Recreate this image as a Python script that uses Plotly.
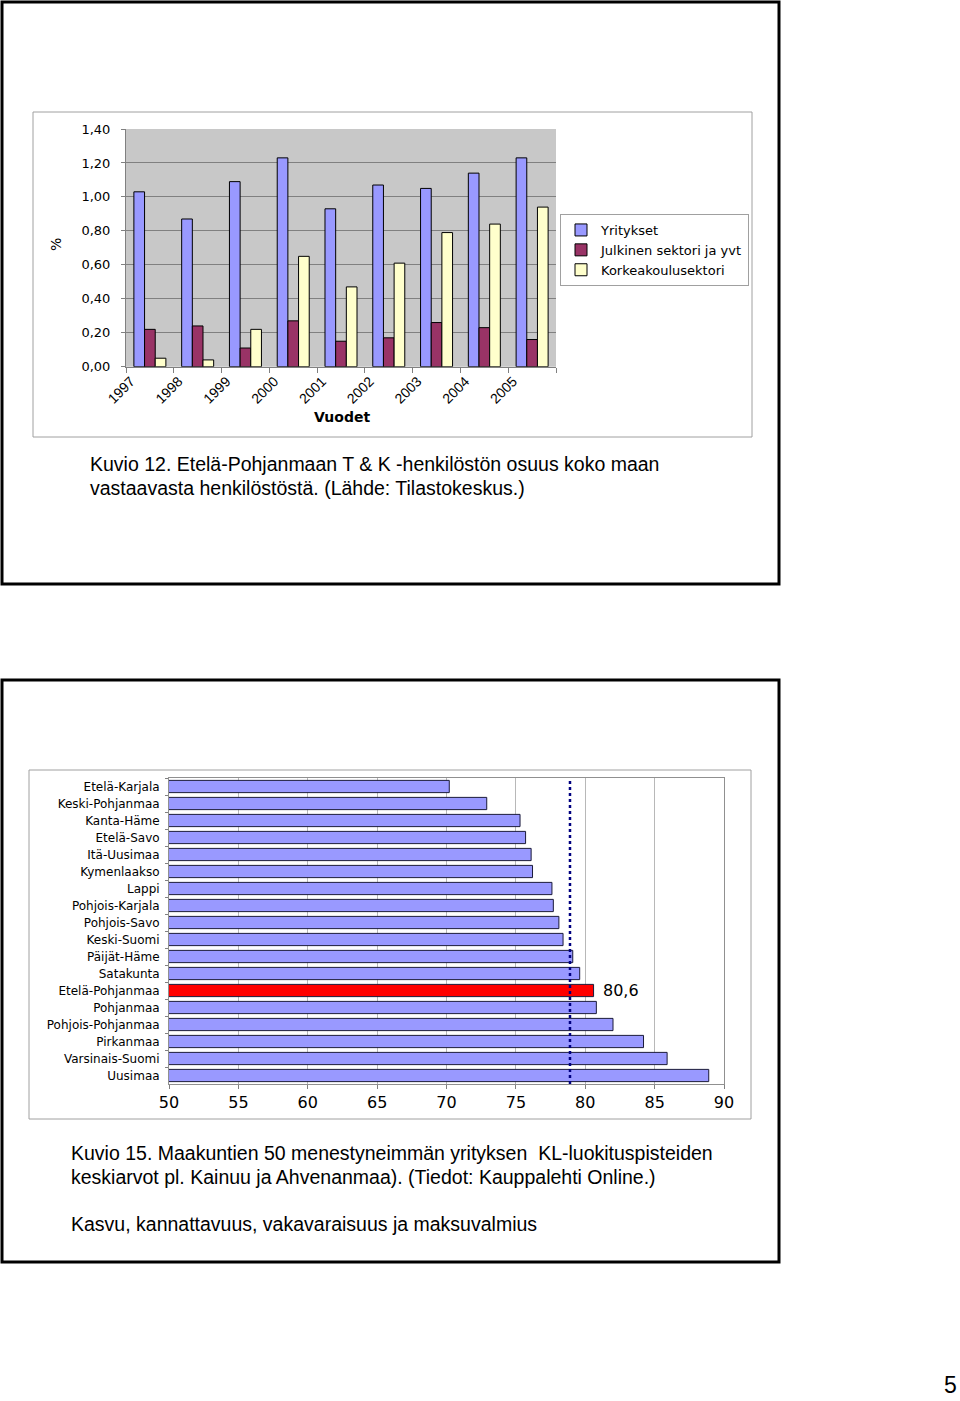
import plotly.graph_objects as go

W, H = 960, 1401

# ---------- Data: chart 1 ----------
years = ["1997", "1998", "1999", "2000", "2001", "2002", "2003", "2004", "2005"]
yritykset = [1.03, 0.87, 1.09, 1.23, 0.93, 1.07, 1.05, 1.14, 1.23]
julkinen = [0.22, 0.24, 0.11, 0.27, 0.15, 0.17, 0.26, 0.23, 0.16]
korkeakoulu = [0.05, 0.04, 0.22, 0.65, 0.47, 0.61, 0.79, 0.84, 0.94]
series_names = ["Yritykset", "Julkinen sektori ja yvt", "Korkeakoulusektori"]

# ---------- Data: chart 2 ----------
regions = ["Etelä-Karjala", "Keski-Pohjanmaa", "Kanta-Häme", "Etelä-Savo", "Itä-Uusimaa",
           "Kymenlaakso", "Lappi", "Pohjois-Karjala", "Pohjois-Savo", "Keski-Suomi",
           "Päijät-Häme", "Satakunta", "Etelä-Pohjanmaa", "Pohjanmaa", "Pohjois-Pohjanmaa",
           "Pirkanmaa", "Varsinais-Suomi", "Uusimaa"]
scores = [70.2, 72.9, 75.3, 75.7, 76.1, 76.2, 77.6, 77.7, 78.1, 78.4,
          79.1, 79.6, 80.6, 80.8, 82.0, 84.2, 85.9, 88.9]
average_score = 78.9
highlight = "Etelä-Pohjanmaa"

FONT = "Arial, 'Liberation Sans', sans-serif"
WIDE = "'DejaVu Sans', Verdana, sans-serif"

def px_x(p):
    return p / W

def px_y(p):
    return 1 - p / H

fig = go.Figure()

colors1 = ["#9999FF", "#993366", "#FFFFCC"]
for name, vals, col in zip(series_names, [yritykset, julkinen, korkeakoulu], colors1):
    fig.add_trace(go.Bar(
        x=years, y=vals, name=name, marker=dict(color=col, line=dict(color="black", width=1)),
        xaxis="x", yaxis="y", showlegend=True,
    ))

bar_colors = ["#FF0000" if r == highlight else "#9999FF" for r in regions]
fig.add_trace(go.Bar(
    y=regions, x=scores, orientation="h",
    marker=dict(color=bar_colors, line=dict(color="#1a1a3a", width=1)),
    xaxis="x2", yaxis="y2", showlegend=False, width=0.72,
))

fig.update_layout(
    width=W, height=H, margin=dict(l=0, r=0, t=0, b=0, pad=0, autoexpand=False),
    paper_bgcolor="white", plot_bgcolor="rgba(0,0,0,0)",
    separators=", ",
    barmode="group", bargap=0.33, bargroupgap=0,
    font=dict(family=FONT, color="black"),
    xaxis=dict(domain=[px_x(126), px_x(556)], anchor="y", type="category", automargin=False,
               tickangle=-45, tickfont=dict(size=14, family=FONT), ticklabelshift=-19,
               tickson="boundaries", ticks="outside", ticklen=5, tickcolor="#808080",
               showline=True, linecolor="#808080", showgrid=False, zeroline=False),
    yaxis=dict(domain=[px_y(366.7), px_y(129)], anchor="x", range=[0, 1.4], dtick=0.2,
               automargin=False, ticklabelstandoff=8,
               tickformat=".2f", tickfont=dict(size=13, family=WIDE), ticks="outside", ticklen=4,
               tickcolor="#808080", showline=True, linecolor="#808080",
               showgrid=True, gridcolor="#808080", gridwidth=1, zeroline=False),
    xaxis2=dict(domain=[px_x(169), px_x(724)], anchor="y2", range=[50, 90], dtick=5,
                automargin=False, ticklabelstandoff=0,
                tickfont=dict(size=16, family=WIDE), ticks="outside", ticklen=4, tickcolor="#808080",
                showline=True, linecolor="#909090", mirror=True,
                showgrid=True, gridcolor="#b8b8b8", zeroline=False),
    yaxis2=dict(domain=[px_y(1084), px_y(778)], anchor="x2", type="category", automargin=False,
                autorange="reversed", tickfont=dict(size=12, family=WIDE), ticks="outside",
                ticklen=3, ticklabelstandoff=6,
                tickson="boundaries", tickcolor="#808080",
                showline=True, linecolor="#909090", mirror=True, showgrid=False),
    legend=dict(x=px_x(560), y=px_y(214), xanchor="left", yanchor="top",
                bordercolor="#a0a0a0", borderwidth=1, bgcolor="white",
                font=dict(size=13, family=WIDE), itemwidth=30, tracegroupgap=0),
)

shapes = []
# thick outer page boxes
for (x0, y0, x1, y1) in [(2, 2, 779, 584), (2, 680, 779, 1262)]:
    shapes.append(dict(type="rect", xref="paper", yref="paper",
                       x0=px_x(x0), y0=px_y(y0), x1=px_x(x1), y1=px_y(y1),
                       line=dict(color="black", width=3), layer="below"))
# chart area boxes
for (x0, y0, x1, y1) in [(33, 112, 752, 437), (29, 770, 751, 1119)]:
    shapes.append(dict(type="rect", xref="paper", yref="paper",
                       x0=px_x(x0), y0=px_y(y0), x1=px_x(x1), y1=px_y(y1),
                       line=dict(color="#a0a0a0", width=1), layer="below"))
# gray plot background of chart 1
shapes.append(dict(type="rect", xref="x domain", yref="y domain", x0=0, x1=1, y0=0, y1=1,
                   fillcolor="#C8C8C8", line=dict(width=0), layer="below"))
# average dotted line
shapes.append(dict(type="line", xref="x2", yref="y2 domain", x0=average_score, x1=average_score,
                   y0=0, y1=1, line=dict(color="#000080", width=2.5, dash="dot"), layer="above"))
fig.update_layout(shapes=shapes)

ann = []
ann.append(dict(text="%", x=px_x(56), y=px_y(245), xref="paper", yref="paper",
                xanchor="center", yanchor="middle",
                showarrow=False, textangle=-90, font=dict(size=14, family=WIDE)))
ann.append(dict(text="<b>Vuodet</b>", x=px_x(342), y=px_y(417), xref="paper", yref="paper",
                xanchor="center", yanchor="middle",
                showarrow=False, font=dict(size=14, family=WIDE)))
hv = scores[regions.index(highlight)]
ann.append(dict(text=f"{hv:.1f}".replace(".", ","), x=hv, y=highlight, xref="x2", yref="y2",
                xanchor="left", yanchor="middle", xshift=7, showarrow=False,
                font=dict(size=16, family=WIDE)))
captions = [
    ("Kuvio 12. Etelä-Pohjanmaan T & K -henkilöstön osuus koko maan", 88, 464),
    ("vastaavasta henkilöstöstä. (Lähde: Tilastokeskus.)", 88, 488),
    ("Kuvio 15. Maakuntien 50 menestyneimmän yrityksen  KL-luokituspisteiden", 69, 1153),
    ("keskiarvot pl. Kainuu ja Ahvenanmaa). (Tiedot: Kauppalehti Online.)", 69, 1177),
    ("Kasvu, kannattavuus, vakavaraisuus ja maksuvalmius", 69, 1224),
]
for t, x, y in captions:
    ann.append(dict(text=t.replace("  ", "&nbsp; "), x=px_x(x), y=px_y(y), xref="paper", yref="paper",
                    xanchor="left", yanchor="middle", showarrow=False, font=dict(size=19.5)))
ann.append(dict(text="5", x=px_x(950), y=px_y(1385), xref="paper", yref="paper",
                xanchor="center", yanchor="middle",
                showarrow=False, font=dict(size=23)))
fig.update_layout(annotations=ann)

fig.write_html("out.html", config={"displayModeBar": False},
               post_script="document.body.style.margin='0';document.body.style.overflow='hidden';")
